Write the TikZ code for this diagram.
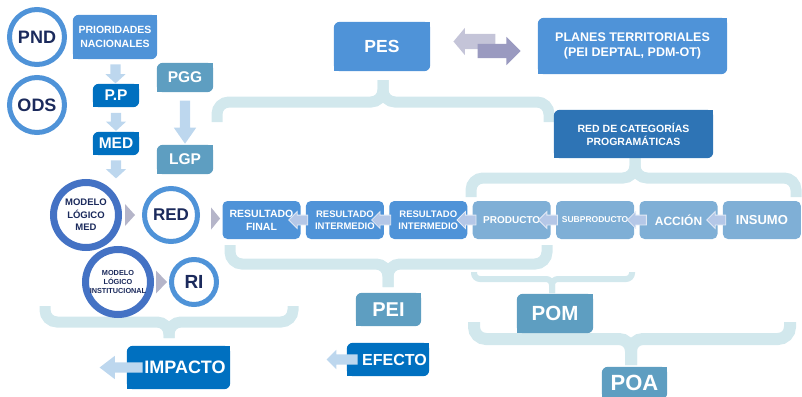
\documentclass[tikz,border=0pt]{standalone}
\usepackage{fontspec}
\setmainfont{Liberation Sans}
\usetikzlibrary{shapes.arrows,calc,backgrounds}

\definecolor{midblue}{HTML}{4F93D8}
\definecolor{darkblue}{HTML}{0070C0}
\definecolor{steel}{HTML}{5E9EC1}
\definecolor{catblue}{HTML}{2E74B5}
\definecolor{paleblue}{HTML}{7FAFD6}
\definecolor{ringdark}{HTML}{4472C4}
\definecolor{arrowblue}{HTML}{BDD7EE}
\definecolor{bracecol}{HTML}{D2E8ED}
\definecolor{tricol}{HTML}{B5B5C9}
\definecolor{lilac}{HTML}{C4C4D8}
\definecolor{lilacdark}{HTML}{9A9AC0}
\definecolor{navy}{HTML}{1B2A5C}
\definecolor{chainarr}{HTML}{B4C7E7}

\newcommand{\fz}[2]{\fontsize{#1}{#2}\selectfont}
% fill behind a box: rounded top left and bottom right
\newcommand{\diagfill}[2]{%
  \fill[#2, rounded corners=6pt] (#1.south west) rectangle (#1.north east);
  \fill[#2] (#1.north east) rectangle ++(-6,6);
  \fill[#2] (#1.south west) rectangle ++(6,-6);}

\begin{document}
\begin{tikzpicture}[x=1pt, y=-1pt,
  ring/.style={circle, draw=midblue, line width=5pt, fill=white, text=navy, inner sep=0pt},
  thickring/.style={ring, draw=ringdark, line width=7pt},
  plainbox/.style={text=white, inner sep=0pt, align=center},
  chainbox/.style={plainbox, rounded corners=5pt, minimum width=78pt, minimum height=38pt},
  downarrow/.style={single arrow, shape border rotate=270, fill=arrowblue, inner sep=5pt, minimum width=20pt, single arrow head extend=5pt, single arrow tip angle=95},
  leftarrow/.style={single arrow, shape border rotate=180, fill=arrowblue, inner sep=5pt},
  chainarrow/.style={single arrow, shape border rotate=180, fill=chainarr, draw=white!60!chainarr, line width=0.8pt, inner sep=4.5pt, minimum height=19pt, minimum width=16pt, single arrow head extend=3.5pt},
  curly/.style={draw=bracecol, line width=11pt, rounded corners=12pt},
  tri/.style={fill=tricol}]
\useasboundingbox (0,0) rectangle (802,396);

% left column
\node[ring, minimum size=55pt, font=\bfseries\fz{18}{18}] (pnd) at (37,37) {PND};
\node[ring, minimum size=55pt, font=\bfseries\fz{18}{18}] (ods) at (37,105) {ODS};
\node[plainbox, minimum width=84pt, minimum height=44pt, font=\bfseries\fz{10.5}{14}] (prio) at (115,37) {PRIORIDADES\\NACIONALES};
\node[plainbox, minimum width=46pt, minimum height=23pt, font=\bfseries\fz{15.5}{16}] (pp) at (116,95.5) {P.P};
\node[plainbox, minimum width=46pt, minimum height=23pt, font=\bfseries\fz{15.5}{16}] (med) at (116,143.5) {MED};
\node[plainbox, minimum width=56pt, minimum height=29pt, font=\bfseries\fz{15.5}{16}] (pgg) at (185,77.5) {PGG};
\node[plainbox, minimum width=56pt, minimum height=29pt, font=\bfseries\fz{15.5}{16}] (lgp) at (185,159.5) {LGP};

\node[thickring, minimum size=65pt, font=\bfseries\fz{9.5}{12.5}, align=center] (mlmed) at (86,215) {MODELO\\LÓGICO\\MED};
\node[ring, minimum size=53pt, font=\bfseries\fz{17}{17}] (red) at (171,215) {RED};
\node[thickring, minimum size=65pt, font=\bfseries\fz{7.3}{9}, align=center] (mlinst) at (118,282) {MODELO\\LÓGICO\\INSTITUCIONAL};
\node[ring, minimum size=45pt, font=\bfseries\fz{19}{19}] (ri) at (194,282) {RI};

% top
\node[plainbox, minimum width=96pt, minimum height=49pt, font=\bfseries\fz{17.5}{18}] (pes) at (382,46.5) {PES};
\node[plainbox, minimum width=189pt, minimum height=56pt, font=\bfseries\fz{12.5}{15}] (planes) at (632.5,46) {PLANES TERRITORIALES\\(PEI DEPTAL, PDM-OT)};
\node[plainbox, minimum width=159pt, minimum height=48pt, font=\bfseries\fz{10.5}{13}] (redcat) at (633.5,134) {RED DE CATEGORÍAS\\PROGRAMÁTICAS};

% chain
\foreach \i/\nm/\col/\sz/\sk/\txt in {0/rf/midblue/10.5/13/RESULTADO\\FINAL,
  1/ri1/midblue/9.5/12.5/RESULTADO\\INTERMEDIO, 2/ri2/midblue/9.5/12.5/RESULTADO\\INTERMEDIO,
  3/prod/paleblue/10/12/PRODUCTO, 4/sub/paleblue/8.5/10/SUBPRODUCTO,
  5/acc/paleblue/12/14/ACCIÓN, 6/ins/paleblue/13/15/INSUMO}
  \node[chainbox, fill=\col, font=\bfseries\fz{\sz}{\sk}] (\nm) at (261.5+83.4*\i,220) {\txt};
\foreach \a/\b/\s in {rf/ri1/-2.5, ri1/ri2/-3, ri2/prod/-1, prod/sub/-3, sub/acc/2.5, acc/ins/-1.5}
  \path (\a.east) -- (\b.west) node[midway, xshift=\s pt, chainarrow] {};

% bottom
\node[plainbox, minimum width=65pt, minimum height=33pt, font=\bfseries\fz{20}{20}] (pei) at (388.5,309.5) {PEI};
\node[plainbox, minimum width=76pt, minimum height=39pt, font=\bfseries\fz{20.5}{21}] (pom) at (555,313.5) {POM};
\node[plainbox, minimum width=65pt, minimum height=32pt, font=\bfseries\fz{22}{22}] (poa) at (634.5,383) {POA};
\node[plainbox, minimum width=82pt, minimum height=33pt, font=\bfseries\fz{16}{16}] (efecto) at (388,359.5) {\hspace*{13pt}EFECTO};
\node[plainbox, minimum width=103pt, minimum height=43pt, font=\bfseries\fz{18}{18}] (impacto) at (178.5,367.5) {\hspace*{13pt}IMPACTO};

% arrows
\path (prio.south) -- (pp.north) node[midway, downarrow, minimum height=19pt] (a1) {};
\path (pp.south) -- (med.north) node[midway, downarrow, minimum height=18pt] (a2) {};
\node[downarrow, minimum height=18pt, anchor=tail] (a3) at ($(med.south)+(0,5)$) {};
\path (pgg.south) -- (lgp.north) node[midway, downarrow, minimum height=43pt, minimum width=22pt, single arrow head extend=6pt, single arrow tip angle=70] (a4) {};
\node[leftarrow, minimum height=43pt, minimum width=23pt, single arrow head extend=6.5pt, single arrow tip angle=75, anchor=tail] (imparr) at ($(impacto.west)+(16,0)$) {};
\node[leftarrow, minimum height=31pt, minimum width=19pt, single arrow head extend=4.5pt, anchor=tail] (efarr) at ($(efecto.west)+(11,0)$) {};
\node[single arrow, shape border rotate=180, fill=lilac, inner sep=7.5pt, minimum height=42pt, minimum width=27pt, single arrow head extend=6pt, single arrow tip angle=100, anchor=tip] (back) at ($(pes.east)+(23,-5)$) {};
\node[single arrow, fill=lilacdark, inner sep=7pt, minimum height=43pt, minimum width=28pt, single arrow head extend=7pt, anchor=tip] (forth) at ($(planes.west)+(-17,5)$) {};

\fill[tri] ($(mlmed.east)!0.4!(red.west)$) +(-5,-11) -- +(5,0) -- +(-5,11) -- cycle;
\fill[tri] ($(red.east)!0.7!(rf.west)$) +(-4.5,-11) -- +(4.5,0) -- +(-4.5,11) -- cycle;
\fill[tri] ($(mlinst.east)!0.5!(ri.west)$) +(-5.5,-11.5) -- +(5.5,0) -- +(-5.5,11.5) -- cycle;

\begin{pgfonlayer}{background}
% braces
\draw[curly] (217,122) |- (383,102) -- (383,80);
\draw[curly] (549,122) |- (383,102) -- (383,80);
\draw[curly] (471,197) |- (635,178) -- (635,156);
\draw[curly] (796,197) |- (635,178) -- (635,156);
\draw[curly] (230,245) |- (388,264) -- (388,287);
\draw[curly] (547,245) |- (388,264) -- (388,287);
\draw[curly] (45,306) |- (169,322) -- (169,338);
\draw[curly] (293,306) |- (169,322) -- (169,338);
\draw[curly, line width=6pt, rounded corners=6pt] (474,272) |- (552,279) -- (552,293);
\draw[curly, line width=6pt, rounded corners=6pt] (632,272) |- (552,279) -- (552,293);
\draw[curly, line width=12pt] (474,322) |- (631,339) -- (631,365);
\draw[curly, line width=12pt] (790,322) |- (631,339) -- (631,365);
% box fills
\foreach \n/\c in {prio/midblue, pp/darkblue, med/darkblue, pgg/steel, lgp/steel,
  pes/midblue, planes/midblue, redcat/catblue, pei/steel, pom/steel, poa/steel,
  efecto/darkblue, impacto/darkblue}
  {\diagfill{\n}{\c}}
\end{pgfonlayer}
\end{tikzpicture}
\end{document}
